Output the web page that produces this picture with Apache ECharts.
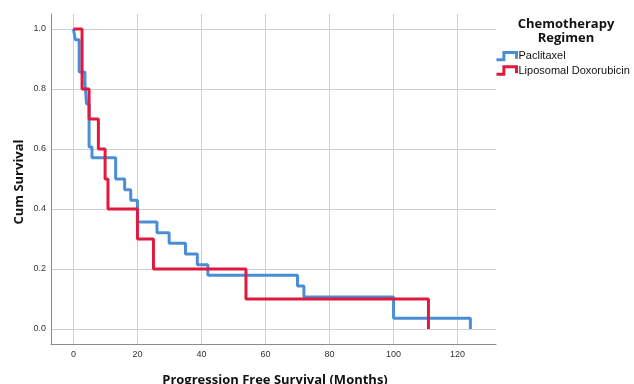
<!DOCTYPE html>
<html>
<head>
<meta charset="utf-8">
<script src="https://cdn.jsdelivr.net/npm/echarts@6/dist/echarts.min.js"></script>
<style>html,body{margin:0;padding:0;background:#fff}#c{width:634px;height:384px}</style>
</head>
<body>
<div id="c"></div>
<script>
// Data (Kaplan-Meier step points: time in months, cumulative survival)
const paclitaxelTime = [0, 0.6, 1.8, 3.6, 4.1, 4.9, 5.8, 13.2, 16.0, 17.9, 20.0, 26.1, 29.9, 35.0, 38.7, 42.0, 70.0, 72.0, 100.0, 124.0];
const paclitaxelSurv = [1.0, 0.964, 0.857, 0.821, 0.75, 0.607, 0.571, 0.5, 0.464, 0.429, 0.357, 0.321, 0.286, 0.25, 0.214, 0.179, 0.143, 0.107, 0.036, 0.0];
const doxoTime = [0, 2.7, 4.9, 7.8, 9.9, 10.8, 20.0, 25.0, 53.9, 110.9];
const doxoSurv = [1.0, 0.8, 0.7, 0.6, 0.5, 0.4, 0.3, 0.2, 0.1, 0.0];
const seriesNames = ['Paclitaxel', 'Liposomal Doxorubicin'];
const seriesColors = ['#4a8fd6', '#e0193f'];
const xTicks = [0, 20, 40, 60, 80, 100, 120];
const yTicks = [0, 0.2, 0.4, 0.6, 0.8, 1.0];

const zip = (a, b) => a.map((v, i) => [v, b[i]]);
const stepIcon = 'path://M0,8 L7,8 L7,1 L19,1 L19,7';

const chart = echarts.init(document.getElementById('c'), null, {renderer: 'canvas'});
chart.setOption({
  animation: false,
  backgroundColor: '#fff',
  grid: {left: 51, right: 138, top: 14, bottom: 40, containLabel: false},
  xAxis: {
    type: 'value', min: -7, max: 132,
    axisLine: {show: true, onZero: false, lineStyle: {color: '#8c8c8c', width: 1}},
    axisTick: {show: false, customValues: xTicks},
    axisLabel: {customValues: xTicks, color: '#333', fontSize: 9, fontFamily: 'Liberation Sans', margin: 6},
    splitLine: {show: true, lineStyle: {color: '#cfcfcf', width: 1}}
  },
  yAxis: {
    type: 'value', min: -0.05, max: 1.05,
    axisLine: {show: true, onZero: false, lineStyle: {color: '#8c8c8c', width: 1}},
    axisTick: {show: false, customValues: yTicks},
    axisLabel: {customValues: yTicks, color: '#333', fontSize: 9, fontFamily: 'Liberation Sans', margin: 5,
      formatter: v => v.toFixed(1)},
    splitLine: {show: true, lineStyle: {color: '#cfcfcf', width: 1}}
  },
  legend: {
    orient: 'vertical', left: 489, top: 45, itemWidth: 20, itemHeight: 8, itemGap: 2,
    icon: stepIcon,
    textStyle: {fontSize: 11, fontFamily: 'Liberation Sans', color: '#111', padding: [0,0,0,-3], lineHeight: 12},
    data: seriesNames.map((n, i) => ({name: n, icon: stepIcon,
      itemStyle: {color: 'none', borderColor: seriesColors[i], borderWidth: 3, opacity: 1}}))
  },
  series: [
    {name: seriesNames[0], type: 'line', step: 'end', showSymbol: false, symbol: 'none',
     data: zip(paclitaxelTime, paclitaxelSurv), color: seriesColors[0],
     lineStyle: {width: 3, color: seriesColors[0]}, itemStyle: {color: seriesColors[0]}},
    {name: seriesNames[1], type: 'line', step: 'end', showSymbol: false, symbol: 'none',
     data: zip(doxoTime, doxoSurv), color: seriesColors[1],
     lineStyle: {width: 3, color: seriesColors[1]}, itemStyle: {color: seriesColors[1]}}
  ],
  graphic: [
    {type: 'text', x: 566, y: 17, style: {text: 'Chemotherapy\nRegimen', align: 'center', font: 'bold 13px "Open Sans"', lineHeight: 14, fill: '#111'}},
    {type: 'text', x: 275, y: 380, style: {text: 'Progression Free Survival (Months)', align: 'center', verticalAlign: 'middle', font: 'bold 13px "Open Sans"', fill: '#111'}},
    {type: 'text', x: 19, y: 182, rotation: Math.PI / 2, style: {text: 'Cum Survival', align: 'center', verticalAlign: 'middle', font: 'bold 13px "Open Sans"', fill: '#111'}}
  ]
});
</script>
</body>
</html>
